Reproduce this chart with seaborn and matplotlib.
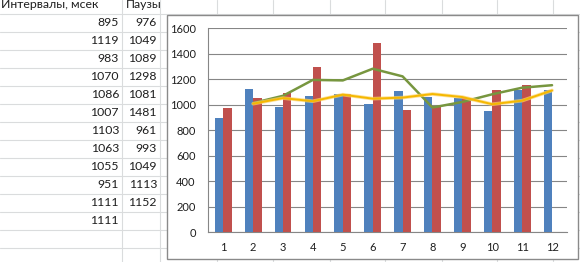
import numpy as np
import pandas as pd
import matplotlib
matplotlib.use("Agg")
import matplotlib.pyplot as plt
from matplotlib.patches import Rectangle
from matplotlib.ticker import FixedLocator
import seaborn as sns

# ---- data ----
categories = ["1", "2", "3", "4", "5", "6", "7", "8", "9", "10", "11", "12"]
intervals = [895, 1119, 983, 1070, 1086, 1007, 1103, 1063, 1055, 951, 1111, 1111]
pauses = [976, 1049, 1089, 1298, 1081, 1481, 961, 993, 1049, 1113, 1152, None]
# moving-average trend lines (2 periods), start at category "2"
trend_categories = ["2", "3", "4", "5", "6", "7", "8", "9", "10", "11", "12"]
trend_pauses = [1012.5, 1069, 1193.5, 1189.5, 1281, 1221, 977, 1021, 1081, 1132.5, 1152]
trend_intervals = [1007, 1051, 1026.5, 1078, 1046.5, 1055, 1083, 1059, 1003, 1031, 1111]
header_intervals = "Интервалы, мсек"
header_pauses = "Паузы"
yticks = [0, 200, 400, 600, 800, 1000, 1200, 1400, 1600]

sns.set_style("white")
FONT = ["Lato", "DejaVu Sans"]
plt.rcParams["font.family"] = FONT

W, H = 580, 262
fig = plt.figure(figsize=(W / 100, H / 100), dpi=100)
fig.patch.set_facecolor("white")

# ---- spreadsheet background (pixel coords, y from top) ----
bg = fig.add_axes([0, 0, 1, 1])
bg.set_xlim(0, W)
bg.set_ylim(H, 0)
bg.axis("off")
grid_c = "#dadcdd"
for k in range(15):
    y = 14 + 18 * k
    bg.plot([0, W], [y, y], color=grid_c, lw=0.8, zorder=0)
for x in [122, 160, 217, 273, 330, 385, 442, 497, 553]:
    bg.plot([x, x], [0, H], color=grid_c, lw=0.8, zorder=0)

txt_c = "#1e1e1e"
FS_CELL = 8.8
bg.text(1, 5, header_intervals, ha="left", va="center", fontsize=FS_CELL, color=txt_c)
bg.text(126, 5, header_pauses, ha="left", va="center", fontsize=FS_CELL, color=txt_c)
for k, v in enumerate(intervals):
    bg.text(119, 23 + 18 * k, str(v), ha="right", va="center", fontsize=FS_CELL, color=txt_c)
for k, v in enumerate(pauses):
    if v is not None:
        bg.text(157, 23 + 18 * k, str(v), ha="right", va="center", fontsize=FS_CELL, color=txt_c)

# chart area box
bg.add_patch(Rectangle((167, 15), 411, 244, facecolor="white", edgecolor="#8a8a8a",
                       lw=1.0, zorder=2))

# ---- plot area ----
left, right = 208.3, 567
top, bottom = 28, 232.3
ax = fig.add_axes([left / W, (H - bottom) / H, (right - left) / W, (bottom - top) / H])
ax.set_facecolor("none")

df = pd.DataFrame({
    "cat": categories * 2,
    "series": ["Интервалы"] * len(categories) + ["Паузы"] * len(categories),
    "value": intervals + [np.nan if v is None else v for v in pauses],
})
sns.barplot(data=df, x="cat", y="value", hue="series", order=categories,
            palette=["#4f81bd", "#c0504d"], width=0.56, gap=0, dodge=True,
            linewidth=0, saturation=1, legend=False, ax=ax, zorder=3)

pos = {c: i for i, c in enumerate(categories)}
tx = [pos[c] for c in trend_categories]
sns.lineplot(x=tx, y=trend_pauses, color="#77963f", lw=1.8, ax=ax, zorder=4)
sns.lineplot(x=tx, y=trend_intervals, color="#fdd26a", lw=2.6, ax=ax, zorder=4, alpha=0.7)
sns.lineplot(x=tx, y=trend_intervals, color="#f5b800", lw=1.4, ax=ax, zorder=5)

ax.set_xlim(-0.5, len(categories) - 0.5)
ax.set_ylim(0, 1600)
ax.set_yticks(yticks)
ax.yaxis.grid(True, color="#868686", lw=0.8)
ax.set_axisbelow(True)
for s in ["top", "right"]:
    ax.spines[s].set_visible(False)
for s in ["left", "bottom"]:
    ax.spines[s].set_color("#868686")
    ax.spines[s].set_linewidth(0.8)
ax.set_xlabel("")
ax.set_ylabel("")
ax.tick_params(axis="x", which="major", length=0, pad=7, labelsize=8, colors=txt_c)
ax.xaxis.set_minor_locator(FixedLocator(np.arange(-0.5, len(categories), 1)))
ax.tick_params(axis="x", which="minor", length=4, color="#868686", width=0.8)
ax.tick_params(axis="y", length=4, color="#868686", width=0.8, pad=5,
               labelsize=8, labelcolor=txt_c)

fig.savefig("out.png", dpi=100)
